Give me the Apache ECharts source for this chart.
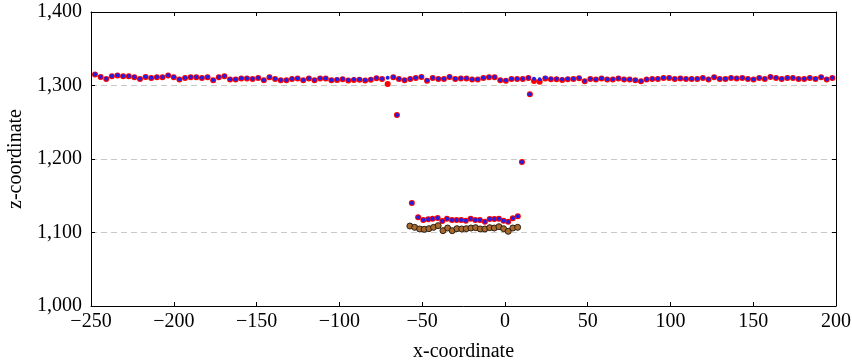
<!DOCTYPE html>
<html>
<head>
<meta charset="utf-8">
<script src="https://cdn.jsdelivr.net/npm/echarts@6/dist/echarts.min.js"></script>
<style>html,body{margin:0;padding:0;background:#fff;}#c{width:852px;height:361px;}</style>
</head>
<body>
<div id="c"></div>
<script>
// x positions of the upper (surface) scan row
const topX = [-247.6,-244.2,-240.8,-237.4,-234.0,-230.6,-227.2,-223.8,-220.4,-217.0,-213.6,-210.2,-206.8,-203.4,-200.0,-196.6,-193.2,-189.8,-186.4,-183.0,-179.6,-176.2,-172.8,-169.4,-166.0,-162.6,-159.2,-155.8,-152.4,-149.0,-145.6,-142.2,-138.8,-135.4,-132.0,-128.6,-125.2,-121.8,-118.4,-115.0,-111.6,-108.2,-104.8,-101.4,-98.0,-94.6,-91.2,-87.8,-84.4,-81.0,-77.6,-74.2,-70.8,-67.4,-64.0,-60.6,-57.2,-53.8,-50.4,-47.0,-43.6,-40.2,-36.8,-33.4,-30.0,-26.6,-23.2,-19.8,-16.4,-13.0,-9.6,-6.2,-2.8,0.6,4.0,7.4,10.8,14.2,17.6,21.0,24.4,27.8,31.2,34.6,38.0,41.4,44.8,48.2,51.6,55.0,58.4,61.8,65.2,68.6,72.0,75.4,78.8,82.2,85.6,89.0,92.4,95.8,99.2,102.6,106.0,109.4,112.8,116.2,119.6,123.0,126.4,129.8,133.2,136.6,140.0,143.4,146.8,150.2,153.6,157.0,160.4,163.8,167.2,170.6,174.0,177.4,180.8,184.2,187.6,191.0,194.4,197.8];
// blue markers, upper row
const topBlue = [1315.2,1312.0,1309.3,1312.9,1313.9,1312.9,1312.9,1311.6,1309.3,1312.0,1310.6,1311.6,1311.6,1313.9,1311.6,1308.4,1310.6,1311.6,1311.6,1310.6,1311.6,
1307.5,1311.6,1312.9,1308.4,1308.4,1309.8,1309.8,1309.3,1310.6,1307.5,1311.6,1309.3,1307.5,1307.5,1309.3,1309.8,1307.5,1309.8,1307.5,1309.8,1309.8,1307.5,
1308.4,1309.3,1307.5,1308.4,1308.4,1307.5,1308.4,1310.6,1309.3,1310.6,1311.6,1309.3,1307.5,1309.3,1310.6,1312.0,1307.0,1310.6,1309.3,1309.3,1312.0,1309.3,
1309.8,1309.8,1308.4,1308.4,1310.6,1311.6,1311.6,1307.5,1307.0,1309.3,1309.3,1309.3,1310.6,1309.3,1308.4,1310.6,1309.3,1309.3,1308.4,1309.3,1309.3,1310.6,
1306.1,1309.3,1308.4,1309.8,1308.4,1308.4,1309.8,1308.4,1308.4,1307.5,1306.1,1308.4,1309.3,1309.3,1310.6,1310.6,1309.3,1309.8,1309.3,1309.3,1309.3,1310.6,1308.4,
1311.6,1309.3,1309.3,1310.6,1309.8,1310.6,1309.3,1308.4,1310.6,1309.3,1312.0,1310.6,1309.3,1310.6,1310.6,1309.3,1309.3,1310.6,1309.3,1311.6,1308.4,1310.6];
// red markers, upper row
const topRed = [1314.8,1311.6,1309.0,1312.5,1313.5,1312.5,1312.6,1311.2,1309.0,1311.6,1310.2,1311.2,1311.3,1313.5,1311.2,1308.0,1310.2,1311.2,1311.3,1310.2,1311.2,
1307.1,1311.2,1312.5,1308.0,1308.0,1309.4,1309.4,1309.0,1310.2,1307.1,1311.2,1309.0,1307.1,1307.1,1309.0,1309.4,1307.1,1309.4,1307.1,1309.4,1309.4,1307.1,
1307.6,1308.6,1306.8,1307.6,1307.8,1306.8,1307.8,1310.0,1309.0,1302.0,1311.2,1309.0,1307.1,1309.0,1310.2,1311.6,1306.6,1310.2,1309.0,1309.0,1311.6,1309.0,
1309.4,1309.4,1308.0,1308.0,1310.2,1311.2,1311.2,1307.1,1306.6,1309.0,1309.0,1309.0,1310.2,1306.1,1305.2,1309.6,1308.4,1308.4,1307.6,1308.6,1308.8,1310.0,
1305.7,1308.9,1308.0,1309.4,1308.0,1308.0,1309.4,1308.0,1308.0,1307.1,1305.7,1308.0,1308.9,1308.9,1310.2,1310.2,1308.9,1309.4,1308.9,1308.9,1308.9,1310.2,1308.0,
1311.2,1308.9,1308.9,1310.2,1309.4,1310.2,1308.9,1308.0,1310.2,1308.9,1311.6,1310.2,1308.9,1310.2,1310.2,1308.9,1308.9,1310.2,1308.9,1311.2,1308.0,1310.2];
// dip (red/blue) row
const dipX = [-65.2,-56.2,-52.4,-49.3,-46.3,-43.7,-40.6,-37.8,-35.0,-32.0,-29.2,-26.4,-23.6,-20.7,-17.9,-15.1,-12.1,-9.2,-6.4,-3.6,-0.8,2.0,4.8,7.8,10.3,15.1];
const dipZ = [1260,1140,1120.6,1117.0,1117.9,1118.8,1119.7,1115.6,1118.8,1117.0,1117.0,1117.0,1116.1,1118.8,1117.0,1117.0,1114.7,1118.4,1118.4,1118.8,1116.1,1114.7,1119.3,1122.0,1196,1288];
// brown row
const lowX = [-57.4,-54.5,-51.5,-48.7,-45.9,-43.1,-40.3,-37.4,-34.6,-31.8,-29.0,-26.1,-23.3,-20.5,-17.7,-14.9,-12.1,-9.2,-6.4,-3.6,-0.8,2.0,4.8,7.7];
const lowZ = [1108.8,1107.0,1104.8,1104.3,1105.2,1107.0,1109.3,1102.5,1106.1,1102.5,1105.2,1104.8,1105.2,1106.1,1106.6,1104.8,1104.8,1106.6,1106.1,1107.9,1105.2,1101.6,1106.1,1107.0];

const xTicks = [-250,-200,-150,-100,-50,0,50,100,150,200];
const yTicks = [1000,1100,1200,1300,1400];

const zip = (xs, ys) => xs.map((x, i) => [x, ys[i]]);
const FONT = 'Liberation Serif';
const fmtY = v => { const s = String(v); return s.length > 3 ? s.slice(0, s.length - 3) + ',' + s.slice(-3) : s; };
const fmtX = v => String(v).replace('-', '\u2212');

const chart = echarts.init(document.getElementById('c'), null, {renderer: 'canvas'});
const axisLine = {show: true, onZero: false, lineStyle: {color: '#000', width: 1}};
const tick = {show: true, inside: true, length: 4, lineStyle: {color: '#000'}};
chart.setOption({
  animation: false,
  grid: {left: 91, right: 16, top: 12, bottom: 55, containLabel: false, outerBoundsMode: 'none'},
  xAxis: [{
    type: 'value', min: xTicks[0], max: xTicks[xTicks.length - 1], interval: 50, position: 'bottom',
    axisLine: axisLine, axisTick: tick,
    axisLabel: {formatter: fmtX, fontFamily: FONT, fontSize: 20, color: '#000', margin: 6},
    splitLine: {show: false},
    name: 'x-coordinate', nameLocation: 'middle', nameGap: 36,
    nameTextStyle: {fontFamily: FONT, fontSize: 20, color: '#000'}
  }, {
    type: 'value', min: xTicks[0], max: xTicks[xTicks.length - 1], interval: 50, position: 'top',
    axisLine: axisLine, axisTick: tick,
    axisLabel: {show: false}, splitLine: {show: false}
  }],
  yAxis: [{
    type: 'value', min: yTicks[0], max: yTicks[yTicks.length - 1], interval: 100, position: 'left',
    axisLine: axisLine, axisTick: tick,
    axisLabel: {formatter: fmtY, fontFamily: FONT, fontSize: 20, color: '#000', margin: 9},
    splitLine: {show: true, lineStyle: {color: '#c8c8c8', type: [6, 4], width: 1}},
    name: 'z-coordinate', nameLocation: 'middle', nameGap: 60,
    nameTextStyle: {fontFamily: FONT, fontSize: 20, color: '#000'}
  }, {
    type: 'value', min: yTicks[0], max: yTicks[yTicks.length - 1], interval: 100, position: 'right',
    axisLine: axisLine, axisTick: tick,
    axisLabel: {show: false}, splitLine: {show: false}
  }],
  series: [
    {type: 'scatter', data: zip(topX, topRed), symbolSize: 6, itemStyle: {color: '#ff0000', opacity: 1}, z: 2},
    {type: 'scatter', data: zip(dipX, dipZ), symbolSize: 6, itemStyle: {color: '#ff0000', opacity: 1}, z: 2},
    {type: 'scatter', data: zip(topX, topBlue), symbolSize: 4, itemStyle: {color: '#1f1fe6', opacity: 1}, z: 3},
    {type: 'scatter', data: zip(dipX, dipZ), symbolSize: 4, itemStyle: {color: '#1f1fe6', opacity: 1}, z: 3},
    {type: 'scatter', data: zip(lowX, lowZ), symbolSize: 6, itemStyle: {color: '#a8692c', borderColor: '#2a1e12', borderWidth: 1, opacity: 1}, z: 3}
  ]
});
</script>
</body>
</html>
